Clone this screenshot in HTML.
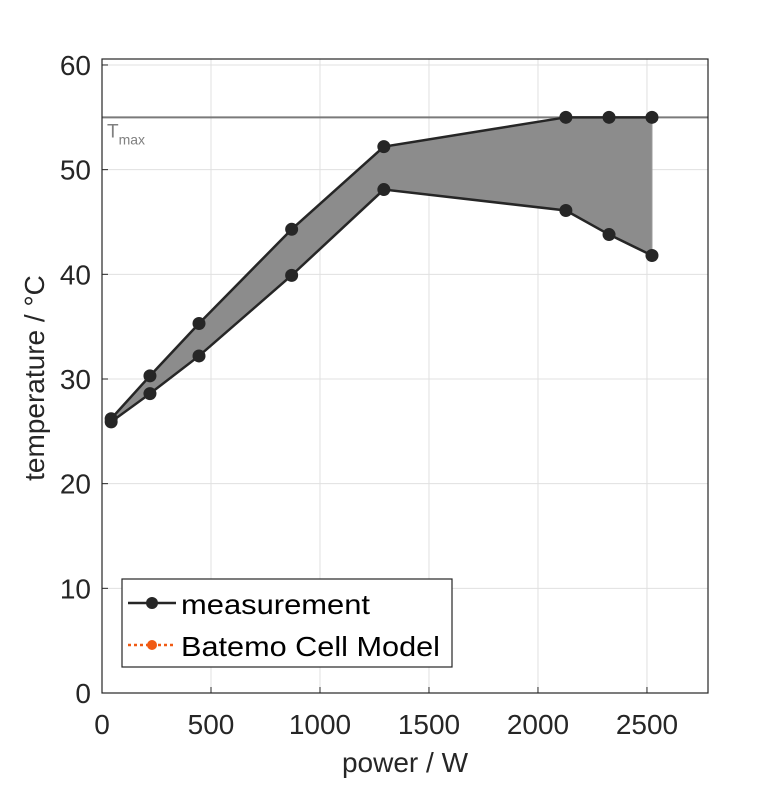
<!DOCTYPE html>
<html><head><meta charset="utf-8"><style>
body{margin:0;background:#fff;}
svg text{font-family:"Liberation Sans",Arial,sans-serif;}
</style></head><body>
<svg id="chart" width="781" height="781">
<g id="grid"></g>
<g id="plot"></g>
<g id="axes"></g>
<text x="405" y="772" text-anchor="middle" font-size="28" fill="#262626">power / W</text>
<text transform="translate(44,378) rotate(-90)" text-anchor="middle" font-size="28" fill="#262626">temperature / °C</text>
<g>
<rect x="122" y="579" width="330" height="88" fill="#fff" stroke="#262626" stroke-width="1.2"/>
<g>
<line x1="128" y1="603" x2="176" y2="603" stroke="#262626" stroke-width="2.5"/>
<circle cx="152" cy="603" r="6" fill="#262626"/>
<text x="181" y="614" font-size="28" textLength="189" lengthAdjust="spacingAndGlyphs" fill="#000">measurement</text>
</g>
<g>
<line x1="128" y1="645" x2="176" y2="645" stroke="#f05a14" stroke-width="2.5" stroke-dasharray="3,3"/>
<circle cx="152" cy="645" r="5" fill="#f05a14"/>
<text x="181" y="656" font-size="28" textLength="259" lengthAdjust="spacingAndGlyphs" fill="#000">Batemo Cell Model</text>
</g>
</g>
</svg>
<script>
const xTicks=[0,500,1000,1500,2000,2500];
const yTicks=[0,10,20,30,40,50,60];
const power=[42,220,445,870,1293,2128,2326,2523];
const upperTemp=[26.2,30.3,35.3,44.3,52.2,55,55,55];
const lowerTemp=[25.9,28.6,32.2,39.9,48.1,46.1,43.8,41.8];
const tMax=55;
const L=102,R=708,T=59,B=693,XMAX=2780,YMAX=(693-59)/10.467;
const sx=v=>L+v/XMAX*(R-L);
const sy=v=>B-v/YMAX*(B-T);
const NS="http://www.w3.org/2000/svg";
function mk(parent,tag,attrs){const e=document.createElementNS(NS,tag);for(const k in attrs)e.setAttribute(k,attrs[k]);document.getElementById(parent).appendChild(e);return e;}
mk('grid','rect',{x:L,y:T,width:R-L,height:B-T,fill:'#fff'});
xTicks.forEach(t=>{
 const g=mk('grid','line',{x1:sx(t),x2:sx(t),y1:T,y2:B,stroke:'#e0e0e0','stroke-width':1});
 
 
 mk('axes','line',{x1:sx(t),x2:sx(t),y1:B,y2:B-6,stroke:'#262626','stroke-width':1});
 const tt=mk('axes','text',{x:sx(t),y:B+41,'text-anchor':'middle','font-size':28,fill:'#262626'});
 tt.textContent=t;
 
 
});
yTicks.forEach(t=>{
 const g=mk('grid','line',{x1:L,x2:R,y1:sy(t),y2:sy(t),stroke:'#e0e0e0','stroke-width':1});
 
 
 mk('axes','line',{x1:L,x2:L+6,y1:sy(t),y2:sy(t),stroke:'#262626','stroke-width':1});
 const tt=mk('axes','text',{x:L-11,y:sy(t)+10,'text-anchor':'end','font-size':28,fill:'#262626'});
 tt.textContent=t;
 
 
});
mk('axes','rect',{x:L,y:T,width:R-L,height:B-T,fill:'none',stroke:'#262626','stroke-width':1.2});
let pts=power.map((p,i)=>sx(p)+','+sy(upperTemp[i]));
for(let i=power.length-1;i>=0;i--)pts.push(sx(power[i])+','+sy(lowerTemp[i]));
const band=mk('plot','polygon',{points:pts.join(' '),fill:'#8c8c8c',stroke:'#9a9a9a','stroke-width':1});


const tl=mk('plot','line',{x1:L,x2:R,y1:sy(tMax),y2:sy(tMax),stroke:'#7a7a7a','stroke-width':2});


const tlab=mk('plot','text',{x:107,y:sy(tMax)+20,'font-size':19,fill:'#808080'});
tlab.innerHTML='T<tspan font-size="14" dy="7">max</tspan>';


[upperTemp,lowerTemp].forEach((s,j)=>{
 const pl=mk('plot','polyline',{points:power.map((p,i)=>sx(p)+','+sy(s[i])).join(' '),fill:'none',stroke:'#262626','stroke-width':2.5});
 
 
 s.forEach((v,i)=>{
  const c=mk('plot','circle',{cx:sx(power[i]),cy:sy(v),r:6.5,fill:'#262626'});
  
  
 });
});
</script>
</body></html>
